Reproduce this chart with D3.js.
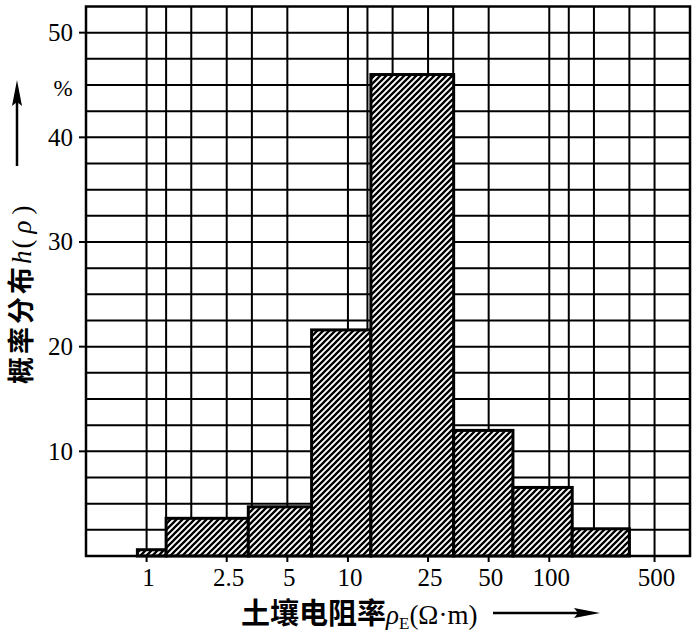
<!DOCTYPE html>
<html><head><meta charset="utf-8">
<script src="https://cdn.jsdelivr.net/npm/d3@7"></script>
<style>body{margin:0;background:#fff;overflow:hidden}</style>
</head><body><svg id="c" width="692" height="634"></svg>
<script>
// ---- data ----
const binEdges = [0.9, 1.25, 3.2, 6.6, 13, 33.5, 66, 130, 250];
const probValues = [0.6, 3.6, 4.7, 21.6, 46.0, 12.0, 6.55, 2.6];
const xTickValues = [1, 2.5, 5, 10, 25, 50, 100, 1000/3];
const xTickLabels = ["1", "2.5", "5", "10", "25", "50", "100", "500"];
const xGridValues = [1, 1.25, 5/3, 2.5, 10/3, 5, 10, 12.5, 50/3, 25, 100/3, 50, 100, 125, 500/3, 250, 1000/3];
const yTickValues = [10, 20, 30, 40, 50];
const yGridValues = [2.5, 5, 7.5, 10, 12.5, 15, 17.5, 20, 22.5, 25, 27.5, 30, 32.5, 35, 37.5, 40, 42.5, 45, 47.5, 50];

const svg = d3.select("#c");
const x = d3.scaleLog().domain([0.5, 500]).range([86, 690]);
const y = d3.scaleLinear().domain([0, 52.5]).range([556, 6.5]);

const defs = svg.append("defs");
const pat = defs.append("pattern").attr("id", "hatch").attr("patternUnits", "userSpaceOnUse")
  .attr("width", 6).attr("height", 6);
pat.append("rect").attr("width", 6).attr("height", 6).attr("fill", "#fff");
pat.append("path").attr("d", "M-1.5,1.5L1.5,-1.5M0,6L6,0M4.5,7.5L7.5,4.5")
  .attr("stroke", "#000").attr("stroke-width", 2.3);

// grid
const g = svg.append("g");
g.selectAll(".vx").data(xGridValues).join("line")
  .attr("x1", d => x(d)).attr("x2", d => x(d)).attr("y1", y(52.5)).attr("y2", y(0))
  .attr("stroke", "#000").attr("stroke-width", 2);
g.selectAll(".hy").data(yGridValues).join("line")
  .attr("x1", x(0.5)).attr("x2", x(500)).attr("y1", d => y(d)).attr("y2", d => y(d))
  .attr("stroke", "#000").attr("stroke-width", 2);

// bars
svg.append("g").selectAll("rect").data(probValues).join("rect")
  .attr("x", (d, i) => x(binEdges[i]))
  .attr("width", (d, i) => x(binEdges[i + 1]) - x(binEdges[i]))
  .attr("y", d => y(d)).attr("height", d => y(0) - y(d))
  .attr("fill", "url(#hatch)").attr("stroke", "#000").attr("stroke-width", 3);

// border
svg.append("rect").attr("x", x(0.5)).attr("y", y(52.5))
  .attr("width", x(500) - x(0.5)).attr("height", y(0) - y(52.5))
  .attr("fill", "none").attr("stroke", "#000").attr("stroke-width", 2.5);

// y axis ticks and labels
const ya = svg.append("g");
ya.selectAll("line").data(yTickValues).join("line")
  .attr("x1", x(0.5) - 7).attr("x2", x(0.5)).attr("y1", d => y(d)).attr("y2", d => y(d))
  .attr("stroke", "#000").attr("stroke-width", 2);
ya.selectAll("text").data(yTickValues).join("text")
  .attr("x", 73).attr("y", d => y(d)).attr("dy", "0.33em")
  .attr("text-anchor", "end").attr("font-family", "Liberation Serif").attr("font-size", 25)
  .text(d => d);
svg.append("text").attr("x", 63).attr("y", 96).attr("text-anchor", "middle")
  .attr("font-family", "Liberation Serif").attr("font-size", 23).text("%");

// x axis ticks and labels
const xa = svg.append("g");
xa.selectAll("line").data(xTickValues).join("line")
  .attr("x1", d => x(d)).attr("x2", d => x(d)).attr("y1", y(0)).attr("y2", y(0) + 6)
  .attr("stroke", "#000").attr("stroke-width", 2);
xa.selectAll("text").data(xTickValues).join("text")
  .attr("x", d => x(d) + 2).attr("y", 586)
  .attr("text-anchor", "middle").attr("font-family", "Liberation Serif").attr("font-size", 25)
  .text((d, i) => xTickLabels[i]);

// x title
const xt = svg.append("text").attr("x", 241).attr("y", 624)
  .attr("font-family", "Liberation Serif").attr("font-size", 27);
xt.append("tspan").attr("font-family", "Noto Sans CJK SC").attr("font-weight", 700)
  .attr("font-size", 29).text("土壤电阻率");
xt.append("tspan").attr("font-style", "italic").text("ρ");
xt.append("tspan").attr("font-size", 17).attr("dy", 5).text("E");
xt.append("tspan").attr("dy", -5).text("(Ω·m)");
svg.append("line").attr("x1", 493).attr("x2", 580).attr("y1", 613).attr("y2", 613)
  .attr("stroke", "#000").attr("stroke-width", 2.5);
svg.append("path").attr("d", "M600,613L574,608L578,613L574,618Z").attr("fill", "#000");

// y title
const yt = svg.append("text").attr("transform", "translate(31,384) rotate(-90)")
  .attr("font-family", "Liberation Serif").attr("font-size", 27);
yt.append("tspan").attr("font-family", "Noto Sans CJK SC").attr("font-weight", 700)
  .attr("letter-spacing", 3).text("概率分布");
yt.append("tspan").attr("font-style", "italic").attr("letter-spacing", 2).text("h");
yt.append("tspan").attr("letter-spacing", 6).text("(");
yt.append("tspan").attr("font-style", "italic").attr("letter-spacing", 6).text("ρ");
yt.append("tspan").text(")");
svg.append("line").attr("x1", 17).attr("x2", 17).attr("y1", 166).attr("y2", 100)
  .attr("stroke", "#000").attr("stroke-width", 2.5);
svg.append("path").attr("d", "M17,80L12,106L17,102L22,106Z").attr("fill", "#000");
</script></body></html>
